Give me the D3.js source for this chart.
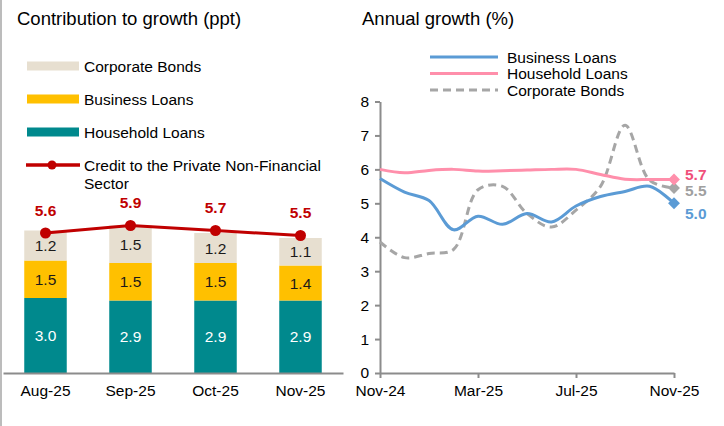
<!DOCTYPE html>
<style>
body { margin: 0; padding: 0; background: #fff; }
svg { font-family: "Liberation Sans", Arial, sans-serif; }
</style>
<svg width="724" height="426"></svg>
<script src="https://d3js.org/d3.v7.min.js"></script>
<script>

// ---- left panel data
var months = ["Aug-25", "Sep-25", "Oct-25", "Nov-25"];
var household = [3.0, 2.9, 2.9, 2.9];
var business = [1.5, 1.5, 1.5, 1.4];
var bonds = [1.2, 1.5, 1.2, 1.1];
var credit = [5.6, 5.9, 5.7, 5.5];

// ---- right panel data (monthly, Nov-24 .. Nov-25)
var growthMonths = ["Nov-24", "Dec-24", "Jan-25", "Feb-25", "Mar-25", "Apr-25", "May-25",
                    "Jun-25", "Jul-25", "Aug-25", "Sep-25", "Oct-25", "Nov-25"];
var growthTicks = ["Nov-24", "Mar-25", "Jul-25", "Nov-25"];
var businessGrowth = [5.73, 5.33, 5.08, 4.22, 4.62, 4.38, 4.70, 4.45, 4.92, 5.20, 5.35, 5.50, 5.0];
var householdGrowth = [6.0, 5.9, 5.97, 6.0, 5.95, 5.96, 5.98, 6.0, 6.0, 5.85, 5.71, 5.70, 5.70];
var bondsGrowth = [3.86, 3.40, 3.52, 3.64, 5.40, 5.50, 4.70, 4.30, 4.80, 5.50, 7.30, 5.68, 5.45];
var yTicks = [0, 1, 2, 3, 4, 5, 6, 7, 8];

var svg = d3.select("svg");

// thin frame line on the left edge
svg.append("line")
    .attr("x1", 1).attr("x2", 1).attr("y1", 0).attr("y2", 426)
    .attr("stroke", "#a6a6a6").attr("stroke-width", 1.5);

// ================= LEFT PANEL =================
var left = svg.append("g");

left.append("text")
    .attr("x", 17).attr("y", 25)
    .attr("font-size", 18.5)
    .text("Contribution to growth (ppt)");

var x0 = d3.scaleBand()
    .domain(months)
    .range([3, 343])
    .paddingInner(0.5)
    .paddingOuter(0.25);

var y0 = d3.scaleLinear()
    .domain([0, 8])
    .range([373, 173]);

var stackKeys = ["household", "business", "bonds"];
var stackColors = { household: "#00898d", business: "#ffc000", bonds: "#e7dfd0" };
var labelColors = { household: "#ffffff", business: "#1a1a1a", bonds: "#1a1a1a" };

var rows = months.map(function(m, i) {
  return { month: m, household: household[i], business: business[i], bonds: bonds[i] };
});

var series = d3.stack().keys(stackKeys)(rows);

var layer = left.append("g")
  .selectAll("g")
  .data(series)
  .enter().append("g")
    .attr("fill", function(d) { return stackColors[d.key]; });

layer.selectAll("rect")
  .data(function(d) { return d; })
  .enter().append("rect")
    .attr("x", function(d) { return x0(d.data.month); })
    .attr("y", function(d) { return y0(d[1]); })
    .attr("width", x0.bandwidth())
    .attr("height", function(d) { return y0(d[0]) - y0(d[1]); });

series.forEach(function(s) {
  left.append("g")
    .selectAll("text")
    .data(s)
    .enter().append("text")
      .attr("x", function(d) { return x0(d.data.month) + x0.bandwidth() / 2; })
      .attr("y", function(d) { return (y0(d[0]) + y0(d[1])) / 2; })
      .attr("dy", "0.36em")
      .attr("text-anchor", "middle")
      .attr("font-size", 15.5)
      .attr("fill", labelColors[s.key])
      .text(function(d) { return d3.format(".1f")(d.data[s.key]); });
});

// baseline axis
var xAxisL = left.append("g")
    .attr("transform", "translate(0,373)")
    .call(d3.axisBottom(x0).tickSize(0).tickPadding(12));
xAxisL.select(".domain").attr("stroke", "#8c8c8c").attr("stroke-width", 2);
xAxisL.selectAll("text")
    .attr("font-family", "Liberation Sans, Arial, sans-serif")
    .attr("font-size", 15.5).attr("fill", "#000");

// credit line
var creditLine = d3.line()
    .x(function(d, i) { return x0(months[i]) + x0.bandwidth() / 2; })
    .y(function(d) { return y0(d); });

left.append("path")
    .datum(credit)
    .attr("fill", "none")
    .attr("stroke", "#c00000")
    .attr("stroke-width", 3)
    .attr("d", creditLine);

left.append("g")
  .selectAll("circle")
  .data(credit)
  .enter().append("circle")
    .attr("cx", function(d, i) { return x0(months[i]) + x0.bandwidth() / 2; })
    .attr("cy", function(d) { return y0(d); })
    .attr("r", 5.5)
    .attr("fill", "#c00000");

left.append("g")
  .selectAll("text")
  .data(credit)
  .enter().append("text")
    .attr("x", function(d, i) { return x0(months[i]) + x0.bandwidth() / 2; })
    .attr("y", function(d) { return y0(d) - 23; })
    .attr("dy", "0.36em")
    .attr("text-anchor", "middle")
    .attr("font-size", 15.5)
    .attr("font-weight", "bold")
    .attr("fill", "#c00000")
    .text(function(d) { return d3.format(".1f")(d); });

// left legend
var legendL = [
  { name: "Corporate Bonds", color: stackColors.bonds, y: 66 },
  { name: "Business Loans", color: stackColors.business, y: 99 },
  { name: "Household Loans", color: stackColors.household, y: 132 }
];
var lg = left.append("g").attr("font-size", 15.5);
legendL.forEach(function(d) {
  lg.append("rect").attr("x", 27).attr("y", d.y - 4.5).attr("width", 52).attr("height", 9).attr("fill", d.color);
  lg.append("text").attr("x", 84).attr("y", d.y).attr("dy", "0.36em").text(d.name);
});
lg.append("line").attr("x1", 26).attr("x2", 80).attr("y1", 165).attr("y2", 165)
    .attr("stroke", "#c00000").attr("stroke-width", 3.5);
lg.append("circle").attr("cx", 52).attr("cy", 165).attr("r", 4.5).attr("fill", "#c00000");
lg.append("text").attr("x", 84).attr("y", 165).attr("dy", "0.36em").text("Credit to the Private Non-Financial");
lg.append("text").attr("x", 84).attr("y", 183).attr("dy", "0.36em").text("Sector");

// ================= RIGHT PANEL =================
var right = svg.append("g");

right.append("text")
    .attr("x", 362).attr("y", 25)
    .attr("font-size", 18.5)
    .text("Annual growth (%)");

var x1 = d3.scalePoint()
    .domain(growthMonths)
    .range([380, 674]);

var y1 = d3.scaleLinear()
    .domain([0, 8])
    .range([373, 101.5]);

var yAxisR = right.append("g")
    .attr("transform", "translate(380,0)")
    .call(d3.axisLeft(y1).tickValues(yTicks).tickFormat(d3.format("d")).tickSize(5).tickSizeOuter(0).tickPadding(6));
var xAxisR = right.append("g")
    .attr("transform", "translate(0,373)")
    .call(d3.axisBottom(x1).tickValues(growthTicks).tickSize(5).tickSizeOuter(0).tickPadding(7));

[yAxisR, xAxisR].forEach(function(ax) {
  ax.select(".domain").attr("stroke", "#8c8c8c").attr("stroke-width", 2);
  ax.selectAll("line").attr("stroke", "#8c8c8c").attr("stroke-width", 2);
  ax.selectAll("text")
    .attr("font-family", "Liberation Sans, Arial, sans-serif")
    .attr("font-size", 15.5).attr("fill", "#000");
});

var growthSeries = [
  { name: "Corporate Bonds", values: bondsGrowth, color: "#a6a6a6", label: "#a0a0a0", dash: "8,5" },
  { name: "Household Loans", values: householdGrowth, color: "#ff8fab", label: "#f0507a", dash: null },
  { name: "Business Loans", values: businessGrowth, color: "#5b9bd5", label: "#5b9bd5", dash: null }
];

var gLine = d3.line()
    .x(function(d, i) { return x1(growthMonths[i]); })
    .y(function(d) { return y1(d); })
    .curve(d3.curveCatmullRom.alpha(0.5));

growthSeries.forEach(function(s) {
  right.append("path")
    .datum(s.values)
    .attr("fill", "none")
    .attr("stroke", s.color)
    .attr("stroke-width", 3)
    .attr("stroke-dasharray", s.dash)
    .attr("d", gLine);
});

var lastMonth = growthMonths[growthMonths.length - 1];
growthSeries.forEach(function(s) {
  var v = s.values[s.values.length - 1];
  right.append("path")
    .attr("d", d3.symbol().type(d3.symbolDiamond2).size(90)())
    .attr("transform", "translate(" + x1(lastMonth) + "," + y1(v) + ")")
    .attr("fill", s.color);
});

// end labels
var endLabels = [
  { text: "5.7", y: householdGrowth[12], color: "#f0507a", dy: -5 },
  { text: "5.5", y: bondsGrowth[12], color: "#a0a0a0", dy: 2 },
  { text: "5.0", y: businessGrowth[12], color: "#5b9bd5", dy: 10 }
];
right.append("g")
  .selectAll("text")
  .data(endLabels)
  .enter().append("text")
    .attr("x", 685)
    .attr("y", function(d) { return y1(d.y) + d.dy; })
    .attr("dy", "0.36em")
    .attr("font-size", 15.5)
    .attr("font-weight", "bold")
    .attr("fill", function(d) { return d.color; })
    .text(function(d) { return d.text; });

// right legend
var legendR = [
  { name: "Business Loans", color: "#5b9bd5", dash: null, y: 57 },
  { name: "Household Loans", color: "#ff8fab", dash: null, y: 73.5 },
  { name: "Corporate Bonds", color: "#a6a6a6", dash: "8,5", y: 90 }
];
var lr = right.append("g").attr("font-size", 15.5);
legendR.forEach(function(d) {
  lr.append("line").attr("x1", 430).attr("x2", 498).attr("y1", d.y).attr("y2", d.y)
    .attr("stroke", d.color).attr("stroke-width", 3).attr("stroke-dasharray", d.dash);
  lr.append("text").attr("x", 507).attr("y", d.y).attr("dy", "0.36em").text(d.name);
});

</script>
